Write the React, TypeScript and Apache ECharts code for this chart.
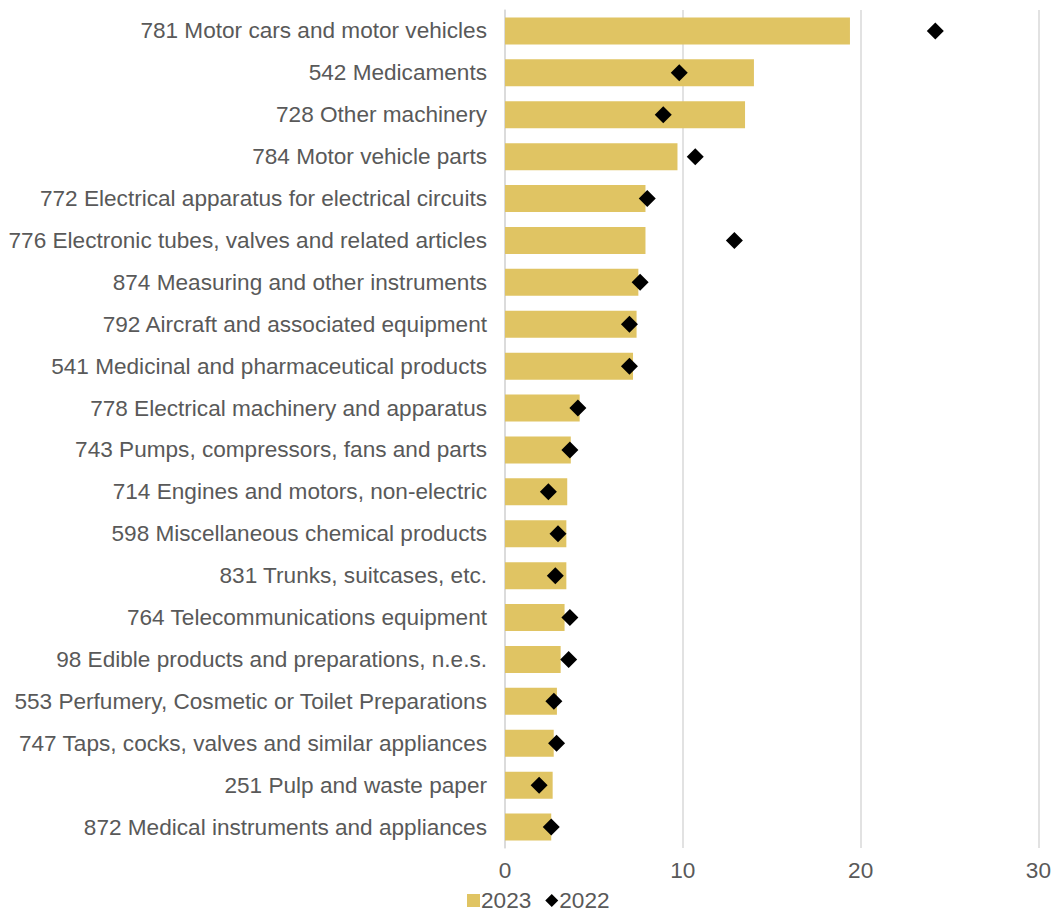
import React, { useEffect, useRef } from "react";
import * as echarts from "echarts";

const categories: string[] = [
  "781 Motor cars and motor vehicles",
  "542 Medicaments",
  "728 Other machinery",
  "784 Motor vehicle parts",
  "772 Electrical apparatus for electrical circuits",
  "776 Electronic tubes, valves and related articles",
  "874 Measuring and other instruments",
  "792 Aircraft and associated equipment",
  "541 Medicinal and pharmaceutical products",
  "778 Electrical machinery and apparatus",
  "743 Pumps, compressors, fans and parts",
  "714 Engines and motors, non-electric",
  "598 Miscellaneous chemical products",
  "831 Trunks, suitcases, etc.",
  "764 Telecommunications equipment",
  "98 Edible products and preparations, n.e.s.",
  "553 Perfumery, Cosmetic or Toilet Preparations",
  "747 Taps, cocks, valves and similar appliances",
  "251 Pulp and waste paper",
  "872 Medical instruments and appliances",
];

const values2023: number[] = [
  19.4, 14.0, 13.5, 9.7, 7.9, 7.9, 7.5, 7.4, 7.2, 4.2, 3.7, 3.5, 3.45, 3.45, 3.35, 3.13, 2.92, 2.74, 2.68, 2.6,
];

const values2022: number[] = [
  24.2, 9.8, 8.9, 10.7, 8.0, 12.9, 7.6, 7.0, 7.0, 4.1, 3.65, 2.44, 2.98, 2.83, 3.65, 3.58, 2.75, 2.9, 1.92, 2.6,
];

const xTicks = { min: 0, max: 30, interval: 10 };

export default function App() {
  const ref = useRef<HTMLDivElement>(null);
  useEffect(() => {
    if (!ref.current) return;
    const chart = echarts.init(ref.current, null, { renderer: "svg" });
    const font = "'Liberation Sans', Arial, sans-serif";
    const fs = 22.6;
    chart.setOption({
      animation: false,
      backgroundColor: "#ffffff",
      textStyle: { fontFamily: font },
      grid: { left: 505, right: 14, top: 10, bottom: 67, containLabel: false },
      legend: {
        left: 462,
        bottom: -2,
        itemGap: 14,
        itemWidth: 13,
        itemHeight: 13,
        textStyle: { fontSize: fs, color: "#595959", fontFamily: font, padding: [0, 0, 0, -4] },
        data: [
          { name: "2023", icon: "rect" },
          { name: "2022", icon: "diamond" },
        ],
      },
      xAxis: {
        type: "value",
        min: xTicks.min,
        max: xTicks.max,
        interval: xTicks.interval,
        axisLine: { show: false },
        axisTick: { show: false },
        splitLine: { show: true, lineStyle: { color: "#d9d9d9", width: 1.5 } },
        axisLabel: { fontSize: fs, color: "#595959", margin: 11, fontFamily: font },
      },
      yAxis: {
        type: "category",
        inverse: true,
        data: categories,
        axisLine: { show: true, lineStyle: { color: "#d9d9d9", width: 1.5 } },
        axisTick: { show: false },
        axisLabel: { fontSize: fs, color: "#595959", margin: 18, fontFamily: font },
      },
      series: [
        {
          name: "2023",
          type: "bar",
          data: values2023,
          barWidth: 27,
          itemStyle: { color: "#e0c463" },
        },
        {
          name: "2022",
          type: "scatter",
          data: values2022,
          symbol: "diamond",
          symbolSize: 17,
          itemStyle: { color: "#000000", opacity: 1 },
        },
      ],
    });
    return () => chart.dispose();
  }, []);
  return (
    <div
      ref={ref}
      style={{ position: "absolute", left: 0, top: 0, width: 1054, height: 915 }}
    />
  );
}
